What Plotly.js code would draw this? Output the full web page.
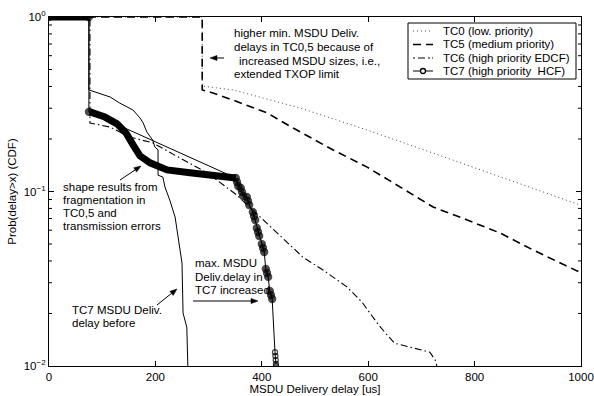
<!DOCTYPE html>
<html>
<head>
<meta charset="utf-8">
<script src="https://cdn.plot.ly/plotly-3.0.1.min.js"></script>
<style>html,body{margin:0;padding:0;background:#fff;}#chart{width:594px;height:396px;}</style>
</head>
<body>
<div id="chart"></div>
<script>
// ---- data ----
const legendNames = ['TC0 (low. priority)', 'TC5 (medium priority)', 'TC6 (high priority EDCF)', 'TC7 (high priority  HCF)'];

const tc0X = [0, 288, 288, 346, 472, 598, 722, 848, 998];
const tc0Y = [1, 1, 0.402, 0.382, 0.301, 0.225, 0.166, 0.121, 0.0837];

const tc5X = [0, 288, 288, 308, 346, 410, 459, 534, 598, 660, 722, 786, 848, 910, 1000];
const tc5Y = [1, 1, 0.382, 0.367, 0.334, 0.282, 0.231, 0.173, 0.138, 0.106, 0.0815, 0.0687, 0.0578, 0.0462, 0.0342];

const tc6X = [0, 77, 77, 115, 152, 195, 259, 297, 353, 397, 434, 477, 515, 560, 588, 603, 617, 632, 650, 716, 726, 729];
const tc6Y = [1, 1, 0.247, 0.234, 0.205, 0.19, 0.148, 0.128, 0.0955, 0.0714, 0.0563, 0.0421, 0.0355, 0.0284, 0.0233, 0.0201, 0.0176, 0.0155, 0.0135, 0.0120, 0.0108, 0.01];

// TC7 (HCF): every point carries a circle marker
const tc7X = [0, 75, 75,
  351.1, 353.4, 355.6,
  360.5, 362.8, 365.0,
  371.8, 374.1, 376.3,
  383.1, 385.3, 387.6,
  390.6, 392.9, 395.1,
  400.0, 402.3, 404.5,
  407.5, 409.8, 412.0,
  415.0, 417.3, 419.5,
  424.8, 425.5, 426.2, 426.6, 426.8];
const tc7Y = [1, 1, 0.286,
  0.1195, 0.1133, 0.1075,
  0.1047, 0.0994, 0.0942,
  0.0930, 0.0882, 0.0837,
  0.0763, 0.0724, 0.0687,
  0.0618, 0.0586, 0.0556,
  0.0500, 0.0475, 0.0450,
  0.0360, 0.0341, 0.0324,
  0.0269, 0.0255, 0.0242,
  0.0120, 0.01141, 0.01082, 0.01027, 0.01];
// continuous runs of overlapping TC7 markers (drawn as a thick band)
const tc7BandX = [0, 75, null, 77, 105, 128, 145, 158, 171, 190, 222, 265, 340, 351];
const tc7BandY = [1, 1, null, 0.286, 0.267, 0.244, 0.216, 0.185, 0.160, 0.146, 0.133, 0.128, 0.121, 0.1195];

// TC7 MSDU delivery delay before (thin solid)
const beforeX = [0, 75, 75, 115, 133, 158, 171, 177, 184, 195, 199, 205, 205, 214, 218, 227, 237, 250, 252, 259, 261];
const beforeY = [1, 1, 0.382, 0.348, 0.321, 0.293, 0.264, 0.247, 0.219, 0.197, 0.18, 0.173, 0.124, 0.121, 0.106, 0.0893, 0.0714, 0.0389, 0.0201, 0.0167, 0.01];

const xTicks = [0, 200, 400, 600, 800, 1000];
const yTicks = [0.01, 0.1, 1];
const yTickText = ['10<sup>\u22122</sup>', '10<sup>\u22121</sup>', '10<sup>0</sup>'];
const yMinorTicks = [0.02, 0.03, 0.04, 0.05, 0.06, 0.07, 0.08, 0.09, 0.2, 0.3, 0.4, 0.5, 0.6, 0.7, 0.8, 0.9];

const note1 = ['higher min. MSDU Deliv.', 'delays in TC0,5 because of', 'increased MSDU sizes, i.e.,', 'extended TXOP limit'];
const note2 = ['shape results from', 'fragmentation in', 'TC0,5 and', 'transmission errors'];
const note3 = ['TC7 MSDU Deliv.', 'delay before'];
const note4 = ['max. MSDU', 'Deliv.delay in', 'TC7 increased'];

// ---- layout helpers (pixel -> paper coords) ----
const L = 49, R = 581, T = 17, B = 366;
const PX = px => (px - L) / (R - L);
const PY = py => (B - py) / (B - T);

const FONT = 'Liberation Sans, Arial, Helvetica, sans-serif';
const FS = 11.5;

const dash0 = '1px,3px', dash5 = '8px,5px', dash6 = '7px,3px,1.5px,3px';

// TC7 markers: dense clusters look filled, the last few are open rings
const tc7Symbols = tc7X.map((_, i) => i >= tc7X.length - 5 ? 'circle-open' : 'circle');
const tc7Sizes = tc7X.map((_, i) => i >= tc7X.length - 5 ? 5 : 7);

const traces = [
  {x: tc0X, y: tc0Y, name: legendNames[0], mode: 'lines', line: {color: '#444', width: 1, dash: dash0}},
  {x: tc5X, y: tc5Y, name: legendNames[1], mode: 'lines', line: {color: '#000', width: 1.6, dash: dash5}},
  {x: tc6X, y: tc6Y, name: legendNames[2], mode: 'lines', line: {color: '#000', width: 1.1, dash: dash6}},
  {x: tc7BandX, y: tc7BandY, name: legendNames[3], mode: 'lines', connectgaps: false, line: {color: '#000', width: 7}},
  {x: tc7X, y: tc7Y, name: legendNames[3], mode: 'lines+markers', line: {color: '#000', width: 1},
   marker: {symbol: tc7Symbols, size: tc7Sizes, color: '#000', line: {width: 1.3, color: '#000'}}},
  {x: beforeX, y: beforeY, name: 'TC7 before', mode: 'lines', line: {color: '#000', width: 1}}
];

const ann = [];
function addLines(lines, leftPx, ys, xs) {
  lines.forEach((t, i) => ann.push({
    x: PX(xs ? xs[i] : leftPx), y: PY(ys[i]), xref: 'paper', yref: 'paper', text: t, showarrow: false,
    xanchor: 'left', yanchor: 'middle', align: 'left', font: {family: FONT, size: FS, color: '#000'}
  }));
}
addLines(note1, 232, [33, 47, 61, 74], [232, 232, 237, 232]);
addLines(note2, 61, [187, 200, 213, 226]);
addLines(note3, 70, [310, 323]);
addLines(note4, 193, [263, 277, 290]);

const shapes = [];
function arrow(hx, hy, tx, ty) {
  const dx = hx - tx, dy = hy - ty, len = Math.hypot(dx, dy);
  const ux = dx / len, uy = dy / len, nx = -uy, ny = ux;
  const hl = 7, hw = 2.6;
  const bx = hx - ux * hl, by = hy - uy * hl;
  shapes.push({type: 'line', xref: 'paper', yref: 'paper', x0: PX(tx), y0: PY(ty), x1: PX(bx), y1: PY(by),
    line: {color: '#000', width: 1}});
  const p = [[hx, hy], [bx + nx * hw, by + ny * hw], [bx - nx * hw, by - ny * hw]];
  shapes.push({type: 'path', xref: 'paper', yref: 'paper',
    path: 'M' + p.map(q => PX(q[0]) + ',' + PY(q[1])).join('L') + 'Z',
    fillcolor: '#000', line: {color: '#000', width: 0.5}});
}
arrow(210, 58, 224, 58);
arrow(141, 166, 120, 180);
arrow(177, 289, 157, 305);
arrow(258, 301, 193, 301);

// minor log ticks, inside, on both vertical sides
const mt = 3 / (R - L);
yMinorTicks.forEach(v => {
  const yp = (Math.log10(v) + 2) / 2;
  shapes.push({type: 'line', xref: 'paper', yref: 'paper', x0: 0, x1: mt, y0: yp, y1: yp, line: {color: '#000', width: 1}});
  shapes.push({type: 'line', xref: 'paper', yref: 'paper', x0: 1 - mt, x1: 1, y0: yp, y1: yp, line: {color: '#000', width: 1}});
});

// legend box drawn by hand (compact rows as in the reference)
const LG = {x0: 408, x1: 576, y0: 23, y1: 79, rows: [31, 44.5, 58, 71], s0: 413, s1: 433, tx: 441};
shapes.push({type: 'rect', xref: 'paper', yref: 'paper', x0: PX(LG.x0), x1: PX(LG.x1), y0: PY(LG.y1), y1: PY(LG.y0),
  fillcolor: '#fff', line: {color: '#000', width: 1}, layer: 'above'});
const legStyles = [
  {color: '#444', width: 1, dash: dash0},
  {color: '#000', width: 1.6, dash: dash5},
  {color: '#000', width: 1.1, dash: '2px,3px,7px,3px,2px'},
  {color: '#000', width: 1, dash: 'solid'}
];
LG.rows.forEach((ry, i) => {
  shapes.push({type: 'line', xref: 'paper', yref: 'paper', x0: PX(LG.s0), x1: PX(LG.s1), y0: PY(ry), y1: PY(ry),
    line: legStyles[i], layer: 'above'});
  ann.push({x: PX(LG.tx), y: PY(ry), xref: 'paper', yref: 'paper', text: legendNames[i], showarrow: false,
    xanchor: 'left', yanchor: 'middle', font: {family: FONT, size: FS, color: '#000'}});
});
const cx = (LG.s0 + LG.s1) / 2, cy = LG.rows[3];
shapes.push({type: 'circle', xref: 'paper', yref: 'paper', x0: PX(cx - 2.5), x1: PX(cx + 2.5), y0: PY(cy + 2.5), y1: PY(cy - 2.5),
  fillcolor: '#fff', line: {color: '#000', width: 1.3}, layer: 'above'});

const layout = {
  width: 594, height: 396,
  margin: {l: L, r: 594 - R, t: T, b: 396 - B},
  paper_bgcolor: '#fff', plot_bgcolor: '#fff',
  font: {family: FONT, size: FS, color: '#000'},
  showlegend: false,
  xaxis: {range: [0, 1000], tickmode: 'array', tickvals: xTicks, ticks: 'inside', ticklen: 5, tickcolor: '#000',
    showline: true, linecolor: '#000', linewidth: 1, mirror: 'ticks', showgrid: false, zeroline: false,
    tickfont: {family: FONT, size: FS, color: '#000'},
    title: {text: 'MSDU Delivery delay [us]', font: {family: FONT, size: FS, color: '#000'}, standoff: 2}},
  yaxis: {type: 'log', range: [-2, 0], tickmode: 'array', tickvals: yTicks, ticktext: yTickText,
    ticks: 'inside', ticklen: 5, tickcolor: '#000',
    showline: true, linecolor: '#000', linewidth: 1, mirror: 'ticks', showgrid: false, zeroline: false,
    tickfont: {family: FONT, size: FS, color: '#000'},
    title: {text: 'Prob(delay>x) (CDF)', font: {family: FONT, size: FS, color: '#000'}, standoff: 4}},
  annotations: ann,
  shapes: shapes
};

Plotly.newPlot('chart', traces, layout, {staticPlot: true, displayModeBar: false});
</script>
</body>
</html>
